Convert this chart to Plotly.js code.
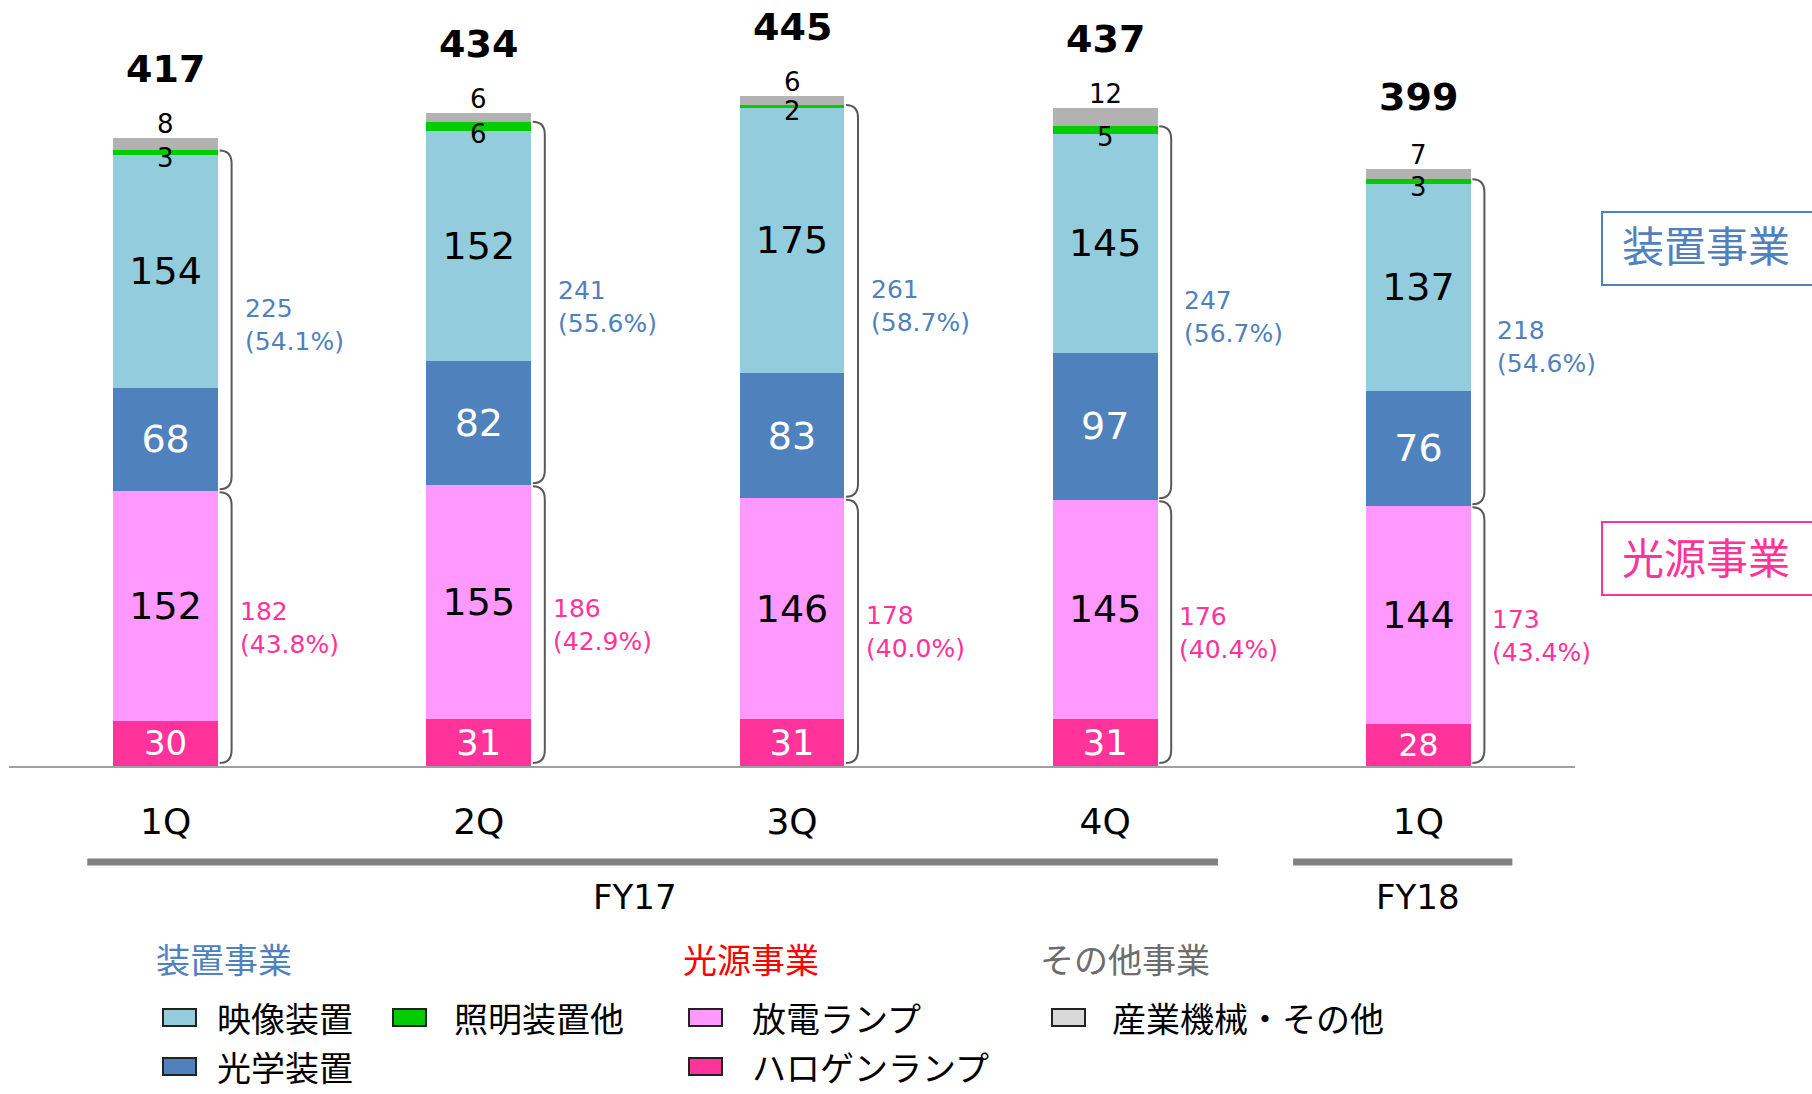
<!DOCTYPE html>
<html><head><meta charset="utf-8">
<script src="https://cdn.plot.ly/plotly-3.0.1.min.js"></script>
<style>body{margin:0;background:#fff}</style>
</head><body><div id="chart" style="width:1812px;height:1094px"></div>
<script>
// ---------------- data ----------------
const quarters = ['1Q','2Q','3Q','4Q','1Q'];
const fiscalYears = ['FY17','FY17','FY17','FY17','FY18'];
const halogenLamp = [30,31,31,31,28];
const dischargeLamp = [152,155,146,145,144];
const opticalEquip = [68,82,83,97,76];
const imagingEquip = [154,152,175,145,137];
const lightingEquip = [3,6,2,5,3];
const industrialOther = [8,6,6,12,7];
const totals = [417,434,445,437,399];
const equipTotal = [225,241,261,247,218];
const equipShare = ['54.1%','55.6%','58.7%','56.7%','54.6%'];
const lightTotal = [182,186,178,176,173];
const lightShare = ['43.8%','42.9%','40.0%','40.4%','43.4%'];
const seriesNames = ['ハロゲンランプ','放電ランプ','光学装置','映像装置','照明装置他','産業機械・その他'];
const groupNames = ['装置事業','光源事業','その他事業'];

// ---------------- styling ----------------
const NUM = 'DejaVu Sans, Verdana, sans-serif';
const JP = 'Noto Sans CJK JP, sans-serif';
const C = {
  halogen:'#FF3399', discharge:'#FF99FF', optical:'#4F81BD', imaging:'#93CDDD',
  lighting:'#00CC00', industrial:'#B2B2B2', industrialKey:'#D9D9D9',
  equipText:'#4F81BD', lightText:'#FF3399', brace:'#595959'
};
const L = 9, T = 40, W = 1566, H = 726, YMAX = 480;
const unit = H / YMAX;
const px = x => (x - L) / W;
const py = y => (T + H - y) / H;

const xs = quarters.map((_, i) => i);

function barTrace(vals, name, color, textColor) {
  return {
    type:'bar', x: xs, y: vals, name: name,
    marker:{color: color, line:{width:0}},
    text: textColor ? vals.map(String) : undefined,
    textposition: textColor ? 'inside' : 'none',
    insidetextanchor:'middle', textangle:0,
    textfont:{family:NUM, size:38, color:textColor || '#000'},
    hoverinfo:'skip', showlegend:false
  };
}

const traces = [
  barTrace(halogenLamp, seriesNames[0], C.halogen, '#FFFFFF'),
  barTrace(dischargeLamp, seriesNames[1], C.discharge, '#000000'),
  barTrace(opticalEquip, seriesNames[2], C.optical, '#FFFFFF'),
  barTrace(imagingEquip, seriesNames[3], C.imaging, '#000000'),
  barTrace(lightingEquip, seriesNames[4], C.lighting, null),
  barTrace(industrialOther, seriesNames[5], C.industrial, null)
];

const annotations = [];
const shapes = [];

xs.forEach(i => {
  const lightTop = halogenLamp[i] + dischargeLamp[i];
  const imagingTop = lightTop + opticalEquip[i] + imagingEquip[i];
  const equipTop = imagingTop + lightingEquip[i];
  const stackTop = equipTop + industrialOther[i];

  // total label
  annotations.push({x:i, y:totals[i], xref:'x', yref:'y', text:String(totals[i]),
    showarrow:false, yanchor:'middle', yshift:66,
    font:{family:NUM, size:38, color:'#000', weight:'bold'}});
  // industrial/other label above bar
  annotations.push({x:i, y:stackTop, xref:'x', yref:'y', text:String(industrialOther[i]),
    showarrow:false, yanchor:'middle', yshift:14,
    font:{family:NUM, size:26, color:'#000'}});
  // lighting label
  annotations.push({x:i, y:imagingTop, xref:'x', yref:'y', text:String(lightingEquip[i]),
    showarrow:false, yanchor:'middle', yshift:-3,
    font:{family:NUM, size:26, color:'#000'}});

  // braces
  const r = 13 / unit, g = 1.5 / unit;
  const brace = (yb, yt) => ({
    type:'path', xref:'x', yref:'y', xsizemode:'pixel', xanchor:i, layer:'above',
    path:`M 54,${yt} Q 66,${yt} 66,${yt - r} L 66,${yb + r} Q 66,${yb} 54,${yb}`,
    line:{color:C.brace, width:2}
  });
  shapes.push(brace(lightTop + g, equipTop));
  shapes.push(brace(2 * g, lightTop - g));

  annotations.push({x:i, y:(lightTop + equipTop) / 2, xref:'x', yref:'y',
    text:`${equipTotal[i]}<br>(${equipShare[i]})`, showarrow:false,
    xanchor:'left', yanchor:'middle', xshift:77, align:'left', yshift:-4,
    font:{family:NUM, size:25, color:C.equipText}});
  annotations.push({x:i, y:lightTop / 2, xref:'x', yref:'y',
    text:`${lightTotal[i]}<br>(${lightShare[i]})`, showarrow:false,
    xanchor:'left', yanchor:'middle', xshift:72, align:'left',
    font:{family:NUM, size:25, color:C.lightText}});
});

// fiscal-year group lines and labels
const fyExtent = {FY17:[-0.25, 3.36], FY18:[3.6, 4.3]};
[...new Set(fiscalYears)].forEach(fy => {
  const idx = xs.filter(i => fiscalYears[i] === fy);
  shapes.push({type:'line', xref:'x', yref:'paper', x0:fyExtent[fy][0], x1:fyExtent[fy][1],
    y0:py(862), y1:py(862), line:{color:'#808080', width:7}});
  annotations.push({x:idx.reduce((a,b)=>a+b,0)/idx.length, y:py(897), xref:'x', yref:'paper',
    text:fy, showarrow:false, yanchor:'middle',
    font:{family:NUM, size:34, color:'#000'}});
});

// right-side business boxes
[[groupNames[0], C.optical, 212, 285, 243], [groupNames[1], C.halogen, 522, 595, 555]].forEach(b => {
  shapes.push({type:'rect', xref:'paper', yref:'paper', x0:px(1602), x1:px(1840),
    y0:py(b[3]), y1:py(b[2]), line:{color:b[1], width:2}, fillcolor:'rgba(0,0,0,0)'});
  annotations.push({x:px(1620), y:py(b[4]), xref:'paper', yref:'paper', text:b[0],
    showarrow:false, xanchor:'left', yanchor:'middle',
    font:{family:JP, size:42, color:b[1]}});
});

// custom legend
const headerColors = ['#4F81BD', '#FF0000', '#6D6D6D'];
const headerX = [154, 681, 1038];
groupNames.forEach((g, k) => {
  annotations.push({x:px(headerX[k]), y:py(958), xref:'paper', yref:'paper', text:g,
    showarrow:false, xanchor:'left', yanchor:'middle',
    font:{family:JP, size:34, color:headerColors[k]}});
});
const row1 = 1017, row2 = 1066;
const keyItems = [
  {name:seriesNames[3], color:C.imaging, sx:163, tx:215, y:row1},
  {name:seriesNames[4], color:C.lighting, sx:393, tx:452, y:row1},
  {name:seriesNames[2], color:C.optical, sx:163, tx:215, y:row2},
  {name:seriesNames[1], color:C.discharge, sx:689, tx:750, y:row1},
  {name:seriesNames[0], color:C.halogen, sx:689, tx:750, y:row2},
  {name:seriesNames[5], color:C.industrialKey, sx:1052, tx:1110, y:row1}
];
keyItems.forEach(it => {
  shapes.push({type:'rect', xref:'paper', yref:'paper', x0:px(it.sx), x1:px(it.sx + 33),
    y0:py(it.y + 9), y1:py(it.y - 8), fillcolor:it.color, line:{color:'#222', width:2}});
  annotations.push({x:px(it.tx), y:py(it.y), xref:'paper', yref:'paper', text:it.name,
    showarrow:false, xanchor:'left', yanchor:'middle',
    font:{family:JP, size:34, color:'#000'}});
});

const layout = {
  width:1812, height:1094, autosize:false,
  margin:{l:L, r:1812 - L - W, t:T, b:1094 - T - H, pad:0},
  paper_bgcolor:'#fff', plot_bgcolor:'#fff',
  barmode:'stack', bargap:0.665, showlegend:false, constraintext:'none',
  xaxis:{range:[-0.5, 4.5], tickvals:xs, ticktext:quarters, ticks:'', showgrid:false,
    zeroline:false, showline:true, linecolor:'#A0A0A0', linewidth:2,
    ticklabelstandoff:23, tickfont:{family:NUM, size:36, color:'#000'}, fixedrange:true},
  yaxis:{range:[0, YMAX], visible:false, showgrid:false, zeroline:false, fixedrange:true},
  shapes:shapes, annotations:annotations
};

Plotly.newPlot('chart', traces, layout, {staticPlot:true, displayModeBar:false});
</script></body></html>
